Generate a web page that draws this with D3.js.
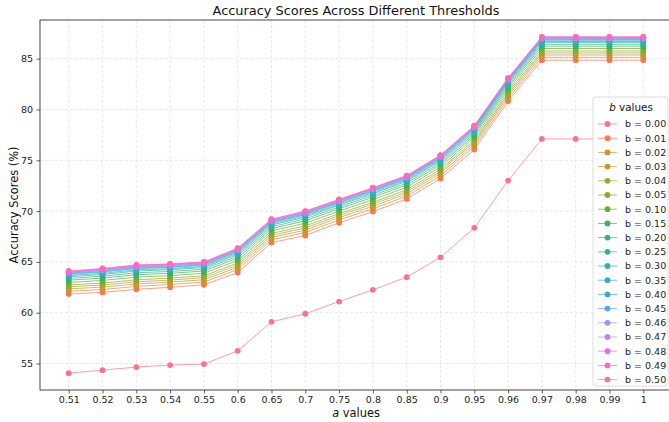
<!DOCTYPE html>
<html><head><meta charset="utf-8">
<script src="https://cdn.jsdelivr.net/npm/d3@7"></script>
<style>body{margin:0;background:#fff;} svg{display:block;font-family:"DejaVu Sans",sans-serif;}</style>
</head><body><svg id="chart" width="669" height="422"></svg>
<script>
// ---------- data ----------
const aValues = ["0.51","0.52","0.53","0.54","0.55","0.6","0.65","0.7","0.75","0.8","0.85","0.9","0.95","0.96","0.97","0.98","0.99","1"];
const bLabels = ["0.00","0.01","0.02","0.03","0.04","0.05","0.10","0.15","0.20","0.25","0.30","0.35","0.40","0.45","0.46","0.47","0.48","0.49","0.50"];
const yTicks = [55,60,65,70,75,80,85];

const acc_b000 = [54.05,54.35,54.65,54.85,54.95,56.25,59.10,59.90,61.10,62.25,63.50,65.45,68.35,73.00,77.10,77.10,77.10,77.10];
const acc_b001 = [61.85,62.00,62.30,62.50,62.75,63.95,66.90,67.60,68.85,69.95,71.20,73.20,76.05,80.80,84.85,84.85,84.85,84.85];
const acc_b002 = [62.12,62.28,62.59,62.78,63.02,64.24,67.18,67.89,69.13,70.23,71.48,73.48,76.33,81.08,85.13,85.13,85.13,85.13];
const acc_b003 = [62.35,62.52,62.83,63.01,63.25,64.48,67.41,68.13,69.36,70.47,71.71,73.71,76.57,81.31,85.36,85.36,85.36,85.36];
const acc_b004 = [62.55,62.73,63.04,63.21,63.45,64.69,67.61,68.34,69.56,70.68,71.91,73.91,76.78,81.51,85.56,85.56,85.56,85.56];
const acc_b005 = [62.73,62.92,63.24,63.40,63.63,64.89,67.80,68.54,69.75,70.87,72.10,74.10,76.97,81.70,85.75,85.75,85.75,85.75];
const acc_b010 = [62.98,63.18,63.50,63.65,63.88,65.15,68.05,68.80,70.00,71.13,72.35,74.35,77.23,81.95,86.00,86.00,86.00,86.00];
const acc_b015 = [63.20,63.41,63.74,63.88,64.10,65.39,68.28,69.04,70.23,71.36,72.58,74.58,77.46,82.18,86.23,86.23,86.23,86.23];
const acc_b020 = [63.38,63.60,63.93,64.06,64.28,65.58,68.46,69.23,70.41,71.55,72.76,74.76,77.65,82.36,86.41,86.41,86.41,86.41];
const acc_b025 = [63.54,63.76,64.10,64.23,64.44,65.75,68.63,69.40,70.58,71.71,72.93,74.93,77.81,82.53,86.58,86.58,86.58,86.58];
const acc_b030 = [63.65,63.88,64.22,64.34,64.55,65.87,68.74,69.52,70.69,71.83,73.04,75.04,77.93,82.64,86.69,86.69,86.69,86.69];
const acc_b035 = [63.76,64.00,64.34,64.46,64.66,65.99,68.86,69.64,70.81,71.95,73.16,75.16,78.05,82.76,86.81,86.81,86.81,86.81];
const acc_b040 = [63.83,64.07,64.41,64.52,64.73,66.06,68.92,69.71,70.87,72.02,73.22,75.22,78.12,82.82,86.87,86.87,86.87,86.87];
const acc_b045 = [63.90,64.14,64.48,64.59,64.80,66.13,68.99,69.78,70.94,72.09,73.29,75.29,78.19,82.89,86.94,86.94,86.94,86.94];
const acc_b046 = [63.94,64.19,64.53,64.64,64.84,66.18,69.04,69.83,70.99,72.14,73.34,75.34,78.24,82.94,86.99,86.99,86.99,86.99];
const acc_b047 = [63.99,64.23,64.58,64.69,64.89,66.23,69.09,69.88,71.04,72.18,73.39,75.39,78.28,82.99,87.04,87.04,87.04,87.04];
const acc_b048 = [64.03,64.28,64.63,64.73,64.93,66.28,69.13,69.93,71.08,72.23,73.43,75.43,78.33,83.03,87.08,87.08,87.08,87.08];
const acc_b049 = [64.08,64.33,64.68,64.78,64.98,66.33,69.18,69.98,71.13,72.28,73.48,75.48,78.38,83.08,87.13,87.13,87.13,87.13];
const acc_b050 = [64.10,64.35,64.70,64.80,65.00,66.35,69.20,70.00,71.15,72.30,73.50,75.50,78.40,83.10,87.15,87.15,87.15,87.15];

const seriesValues = [acc_b000,acc_b001,acc_b002,acc_b003,acc_b004,acc_b005,acc_b010,acc_b015,acc_b020,acc_b025,
  acc_b030,acc_b035,acc_b040,acc_b045,acc_b046,acc_b047,acc_b048,acc_b049,acc_b050];

// ---------- husl palette (seaborn) ----------
function huslToHex(H,S,L){
  const m=[[3.2406,-1.5372,-0.4986],[-0.9689,1.8758,0.0415],[0.0557,-0.2040,1.0570]];
  const refU=0.19784, refV=0.46834, labE=0.008856, labK=903.3;
  const hrad=H*Math.PI/180, sinH=Math.sin(hrad), cosH=Math.cos(hrad);
  const sub1=Math.pow(L+16,3)/1560896, sub2=sub1>labE?sub1:L/labK;
  let res=Infinity;
  for(const [m1,m2,m3] of m){
    const top=(0.99915*m1+1.05122*m2+1.14460*m3)*sub2;
    const rb=0.86330*m3-0.17266*m2, lb=0.12949*m3-0.38848*m1;
    const bottom=(rb*sinH+lb*cosH)*sub2;
    for(const t of [0,1]){const c=L*(top-1.05122*t)/(bottom+0.17266*sinH*t); if(c>0&&c<res) res=c;}
  }
  const C=res/100*S;
  const U=Math.cos(hrad)*C, V=Math.sin(hrad)*C;
  const t=(L+16)/116; const varY=Math.pow(t,3)>labE?Math.pow(t,3):(116*t-16)/labK;
  const varU=U/(13*L)+refU, varV=V/(13*L)+refV;
  const Y=varY, X=-(9*Y*varU)/((varU-4)*varV-varU*varV), Z=(9*Y-15*varV*Y-varV*X)/(3*varV);
  const rgb=m.map(r=>{let c=r[0]*X+r[1]*Y+r[2]*Z; c=c<=0.0031308?12.92*c:1.055*Math.pow(c,1/2.4)-0.055; return Math.round(Math.max(0,Math.min(1,c))*255);});
  return d3.rgb(rgb[0],rgb[1],rgb[2]).formatHex();
}
const nC=bLabels.length;
const colors=bLabels.map((_,i)=>huslToHex(((i/nC+0.01)%1)*359, 89.1, 65));

// ---------- layout ----------
const svg=d3.select("#chart");
const L=40, R=672, T=20, B=390;
const allVals=seriesValues.flat();
const ymin=d3.min(allVals), ymax=d3.max(allVals), yr=ymax-ymin;
const x=d3.scalePoint().domain(aValues).range([L,R]).padding(0.85);
const y=d3.scaleLinear().domain([ymin-0.05*yr, ymax+0.05*yr]).range([B,T]);

// grid
const grid=svg.append("g");
grid.selectAll(".gx").data(aValues).enter().append("line")
  .attr("x1",d=>x(d)).attr("x2",d=>x(d)).attr("y1",T).attr("y2",B)
  .attr("stroke","#e2e2e2").attr("stroke-width",0.8).attr("stroke-dasharray","3,2");
grid.selectAll(".gy").data(yTicks).enter().append("line")
  .attr("x1",L).attr("x2",R).attr("y1",d=>y(d)).attr("y2",d=>y(d))
  .attr("stroke","#e2e2e2").attr("stroke-width",0.8).attr("stroke-dasharray","3,2");

// series
const line=d3.line().x((d,i)=>x(aValues[i])).y(d=>y(d));
seriesValues.forEach((vals,si)=>{
  const g=svg.append("g");
  g.append("path").datum(vals).attr("d",line).attr("fill","none")
    .attr("stroke",colors[si]).attr("stroke-width",1).attr("stroke-opacity",0.7);
  g.selectAll("circle").data(vals).enter().append("circle")
    .attr("cx",(d,i)=>x(aValues[i])).attr("cy",d=>y(d)).attr("r",2.9)
    .attr("fill",colors[si]);
});

// axes
const xAxis=svg.append("g").attr("transform",`translate(0,${B})`)
  .call(d3.axisBottom(x).tickSize(3.5).tickPadding(2.5));
const yAxis=svg.append("g").attr("transform",`translate(${L},0)`)
  .call(d3.axisLeft(y).tickValues(yTicks).tickFormat(d3.format("d")).tickSize(3.5).tickPadding(3.5));
[xAxis,yAxis].forEach(a=>{
  a.select(".domain").remove();
  a.selectAll("text").attr("font-family","DejaVu Sans").attr("font-size",9.5).attr("fill","#222");
  a.selectAll(".tick line").attr("stroke","#333").attr("stroke-width",0.8);
});

// spines
svg.append("rect").attr("x",L).attr("y",T).attr("width",R-L).attr("height",B-T)
  .attr("fill","none").attr("stroke","#333").attr("stroke-width",0.9);

// title & labels
svg.append("text").attr("x",(L+R)/2).attr("y",15).attr("text-anchor","middle")
  .attr("font-size",12.9).attr("fill","#111").text("Accuracy Scores Across Different Thresholds");
const xl=svg.append("text").attr("x",(L+R)/2).attr("y",417).attr("text-anchor","middle")
  .attr("font-size",11.4).attr("fill","#111");
xl.append("tspan").attr("font-style","italic").text("a");
xl.append("tspan").text(" values");
svg.append("text").attr("transform",`translate(18,${(T+B)/2}) rotate(-90)`).attr("text-anchor","middle")
  .attr("font-size",11.4).attr("fill","#111").text("Accuracy Scores (%)");

// legend
const lg=svg.append("g");
lg.append("rect").attr("x",593).attr("y",97).attr("width",75).attr("height",289).attr("rx",3)
  .attr("fill","#fff").attr("fill-opacity",0.85).attr("stroke","#d4d4d4").attr("stroke-width",0.8);
const lt=lg.append("text").attr("x",631).attr("y",111).attr("text-anchor","middle").attr("font-size",10.4).attr("fill","#111");
lt.append("tspan").attr("font-style","italic").text("b");
lt.append("tspan").text(" values");
bLabels.forEach((b,i)=>{
  const cy=124+i*14.2;
  lg.append("line").attr("x1",598).attr("x2",617).attr("y1",cy).attr("y2",cy)
    .attr("stroke",colors[i]).attr("stroke-width",1).attr("stroke-opacity",0.7);
  lg.append("circle").attr("cx",607.5).attr("cy",cy).attr("r",2.9).attr("fill",colors[i]);
  lg.append("text").attr("x",625).attr("y",cy+3.4).attr("font-size",9.5).attr("fill","#222").text("b = "+b);
});
</script></body></html>
